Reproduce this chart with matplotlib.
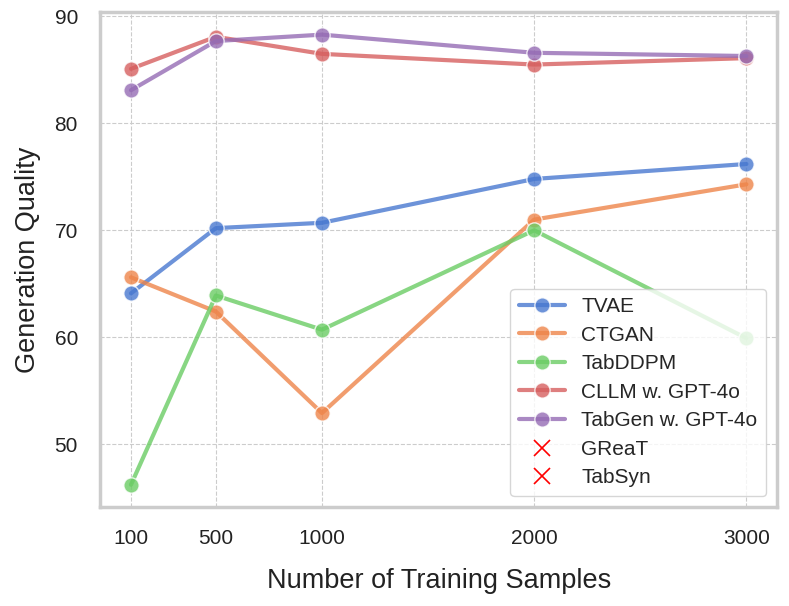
import matplotlib.pyplot as plt
import seaborn as sns
import numpy as np

samples = [100, 500, 1000, 2000, 3000]
tvae = [64.1, 70.2, 70.7, 74.8, 76.2]
ctgan = [65.6, 62.4, 52.9, 71.0, 74.3]
tabddpm = [46.2, 63.9, 60.7, 70.0, 59.9]
cllm = [85.1, 88.1, 86.5, 85.5, 86.1]
tabgen = [83.1, 87.7, 88.3, 86.6, 86.3]

series = [
    ("TVAE", tvae),
    ("CTGAN", ctgan),
    ("TabDDPM", tabddpm),
    ("CLLM w. GPT-4o", cllm),
    ("TabGen w. GPT-4o", tabgen),
]
missing = ["GReaT", "TabSyn"]

sns.set_theme(style="whitegrid")
plt.rcParams['font.family'] = ['Liberation Sans', 'DejaVu Sans']

colores = sns.color_palette("muted")

fig, ax = plt.subplots(figsize=(7.89, 6.06), dpi=100)

for i, (nombre, valores) in enumerate(series):
    ax.plot(samples, valores, marker='o', color=colores[i], linewidth=3,
            markersize=11, markeredgecolor='white', markeredgewidth=1,
            alpha=0.8, label=nombre)

for nombre in missing:
    ax.plot([], [], marker='x', linestyle='none', color='red',
            markersize=12, markeredgewidth=1.2, label=nombre)

ax.set_xticks(samples)
ax.set_xticklabels([str(s) for s in samples])
ax.tick_params(axis='both', labelsize=15, pad=10, labelcolor='#222222')
ax.set_yticks([50, 60, 70, 80, 90])

ax.grid(True, linestyle='--', color='#cccccc', linewidth=0.8)
for s in ax.spines.values():
    s.set_color('#cccccc')
    s.set_linewidth(2.5)

ax.set_xlabel("Number of Training Samples", fontsize=19.5, labelpad=14, color='#222222')
ax.set_ylabel("Generation Quality", fontsize=19.5, labelpad=10, color='#222222')

ax.legend(loc='lower right', fontsize=15, framealpha=0.8,
          handlelength=2.2, borderpad=0.4, labelspacing=0.46,
          borderaxespad=0.55)

fig.subplots_adjust(left=0.127, right=0.985, top=0.98, bottom=0.163)
fig.savefig("out.png", dpi=100)
